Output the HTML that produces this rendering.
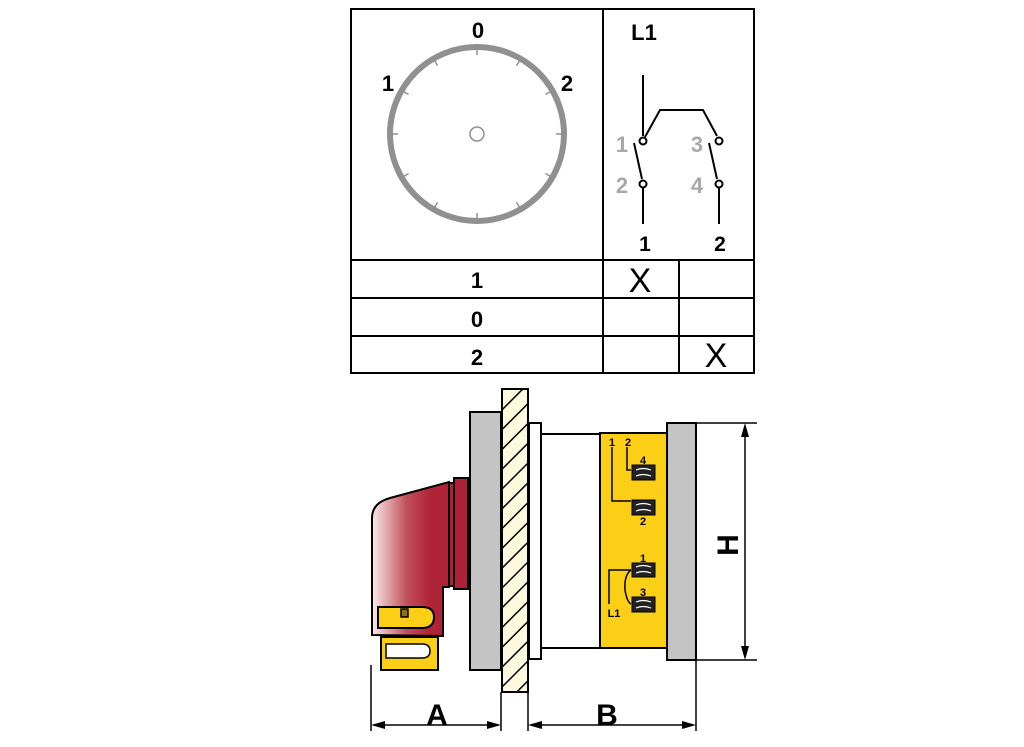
<!DOCTYPE html>
<html><head><style>html,body{margin:0;padding:0;background:#fff}svg{display:block}</style></head><body>
<svg width="1024" height="747" viewBox="0 0 1024 747" xmlns="http://www.w3.org/2000/svg" font-family="Liberation Sans, Arial, sans-serif" font-weight="bold">
<defs>
<linearGradient id="rg" x1="0" x2="1" y1="0" y2="0">
<stop offset="0" stop-color="#fbeaea"/><stop offset="0.45" stop-color="#c0505a"/><stop offset="0.75" stop-color="#b02438"/><stop offset="1" stop-color="#ad2237"/></linearGradient>
<pattern id="hatch" width="14" height="14" patternUnits="userSpaceOnUse" patternTransform="rotate(45)">
<rect width="14" height="14" fill="#fdf9dc"/><line x1="0" y1="0" x2="0" y2="14" stroke="#000" stroke-width="3"/></pattern>
</defs>
<!-- top table -->
<g stroke="#000" stroke-width="2" fill="none">
<rect x="351" y="9" width="403" height="364"/>
<line x1="603" y1="9" x2="603" y2="373"/>
<line x1="351" y1="260" x2="754" y2="260"/>
<line x1="351" y1="298" x2="754" y2="298"/>
<line x1="351" y1="336" x2="754" y2="336"/>
<line x1="679" y1="260" x2="679" y2="373"/>
</g>
<circle cx="477" cy="134" r="87" fill="none" stroke="#909090" stroke-width="6"/>
<g stroke="#909090" stroke-width="1.5">
<line x1="477" y1="47" x2="477" y2="55"/><line x1="477" y1="213" x2="477" y2="221"/>
<line x1="390" y1="134" x2="398" y2="134"/><line x1="556" y1="134" x2="564" y2="134"/>
<line x1="433.5" y1="58.7" x2="437.5" y2="65.6"/><line x1="520.5" y1="58.7" x2="516.5" y2="65.6"/>
<line x1="433.5" y1="209.3" x2="437.5" y2="202.4"/><line x1="520.5" y1="209.3" x2="516.5" y2="202.4"/>
<line x1="401.7" y1="90.5" x2="408.6" y2="94.5"/><line x1="552.3" y1="90.5" x2="545.4" y2="94.5"/>
<line x1="401.7" y1="177.5" x2="408.6" y2="173.5"/><line x1="552.3" y1="177.5" x2="545.4" y2="173.5"/>
</g>
<circle cx="477" cy="134" r="7" fill="none" stroke="#909090" stroke-width="1.5"/>
<g font-size="22" text-anchor="middle" fill="#000">
<text x="478" y="38">0</text><text x="388" y="91">1</text><text x="567" y="91">2</text>
<text x="644" y="40">L1</text>
<text x="645" y="251" font-size="21">1</text><text x="720" y="251" font-size="21">2</text>
<text x="477" y="288">1</text><text x="477" y="327">0</text><text x="477" y="365">2</text>
<text x="640" y="292" font-size="34" font-weight="normal">X</text><text x="716" y="367" font-size="34" font-weight="normal">X</text>
</g>
<g font-size="22" text-anchor="middle" fill="#a8a8a8">
<text x="622" y="152">1</text><text x="697" y="152">3</text><text x="622" y="193">2</text><text x="697" y="193">4</text>
</g>
<g stroke="#000" stroke-width="2" fill="none">
<line x1="643" y1="75" x2="643" y2="136"/>
<polyline points="645,137 660,110 703,110 717,136"/>
<line x1="634" y1="143" x2="642" y2="179"/>
<line x1="709" y1="143" x2="717" y2="179"/>
<line x1="643" y1="187" x2="643" y2="224"/><line x1="719" y1="187" x2="719" y2="224"/>
<circle cx="643" cy="141" r="3.5" fill="#fff"/><circle cx="719" cy="141" r="3.5" fill="#fff"/>
<circle cx="643" cy="184" r="3.5" fill="#fff"/><circle cx="719" cy="184" r="3.5" fill="#fff"/>
</g>
<!-- bottom drawing -->
<g stroke="#000" stroke-width="2">
<rect x="470" y="412" width="31" height="258" fill="#c4c4c4"/>
<rect x="502" y="389" width="26" height="303" fill="url(#hatch)"/>
<rect x="529" y="423" width="12" height="236" fill="#fff"/>
<line x1="541" y1="434" x2="600" y2="434"/><line x1="541" y1="648" x2="600" y2="648"/>
<rect x="600" y="433" width="67" height="215" fill="#fbcf16"/>
<rect x="667" y="423" width="29" height="237" fill="#c4c4c4"/>
</g>
<!-- handle -->
<g stroke="#000" stroke-width="2">
<rect x="454" y="478" width="14" height="111" fill="#ad2237"/>
<rect x="449" y="483" width="5" height="103" fill="#ad2237"/>
<path d="M372,635 L372,518 Q372,503 390,498 L449,482 L449,587 L443,587 L443,636 Z" fill="url(#rg)"/>
<path d="M378,607 L422,607 Q434,607 434,617 Q434,628 422,628 L378,628 Z" fill="#fbcf16"/>
<rect x="401" y="609" width="7" height="8" fill="#8a7010" stroke-width="1.5"/>
<rect x="381" y="637" width="57" height="33" fill="#fbcf16"/>
<path d="M386,644 L422,644 Q430,644 430,651 Q430,658 422,658 L386,658 Z" fill="#fff" stroke-width="1.5"/>
</g>
<!-- terminals -->
<g stroke="#000" stroke-width="1.5" fill="none">
<polyline points="612,447 612,501 631,501"/>
<polyline points="627,447 627,470 631,470"/>
<polyline points="609,604 609,570 631,570"/>
<path d="M631,570 Q624,575 625,590 Q627,602 631,604"/>
</g>
<g fill="#222" stroke="#000">
<rect x="632" y="465" width="23" height="15"/><rect x="632" y="500" width="23" height="15"/>
<rect x="632" y="563" width="23" height="14"/><rect x="632" y="597" width="23" height="15"/>
</g>
<g stroke="#fff" stroke-width="1.2" fill="none">
<path d="M636,470 Q643,467 651,470 M636,476 Q643,473 651,476"/>
<path d="M636,505 Q643,502 651,505 M636,511 Q643,508 651,511"/>
<path d="M636,567 Q643,564 651,567 M636,573 Q643,570 651,573"/>
<path d="M636,602 Q643,599 651,602 M636,608 Q643,605 651,608"/>
</g>
<g font-size="11" fill="#000" text-anchor="middle">
<text x="612" y="446">1</text><text x="628" y="446">2</text>
<text x="643" y="464">4</text><text x="643" y="525">2</text>
<text x="643" y="562">1</text><text x="643" y="596">3</text>
<text x="614" y="617">L1</text>
</g>
<!-- dimensions -->
<g stroke="#000" stroke-width="1.5" fill="none">
<line x1="696" y1="423" x2="757" y2="423"/><line x1="696" y1="660" x2="757" y2="660"/>
<line x1="745" y1="428" x2="745" y2="655"/>
<line x1="371" y1="665" x2="371" y2="731"/><line x1="501" y1="692" x2="501" y2="731"/>
<line x1="528" y1="692" x2="528" y2="731"/><line x1="696" y1="660" x2="696" y2="731"/>
<line x1="374" y1="725" x2="498" y2="725"/><line x1="531" y1="725" x2="693" y2="725"/>
</g>
<g fill="#000">
<polygon points="745,423 741,437 749,437"/><polygon points="745,660 741,646 749,646"/>
<polygon points="371,725 385,721 385,729"/><polygon points="501,725 487,721 487,729"/>
<polygon points="528,725 542,721 542,729"/><polygon points="696,725 682,721 682,729"/>
</g>
<g font-size="30" fill="#000" text-anchor="middle">
<text x="437" y="725">A</text><text x="607" y="725">B</text>
<text x="0" y="0" transform="translate(738,545) rotate(-90)" dy="0">H</text>
</g>
</svg>
</body></html>
